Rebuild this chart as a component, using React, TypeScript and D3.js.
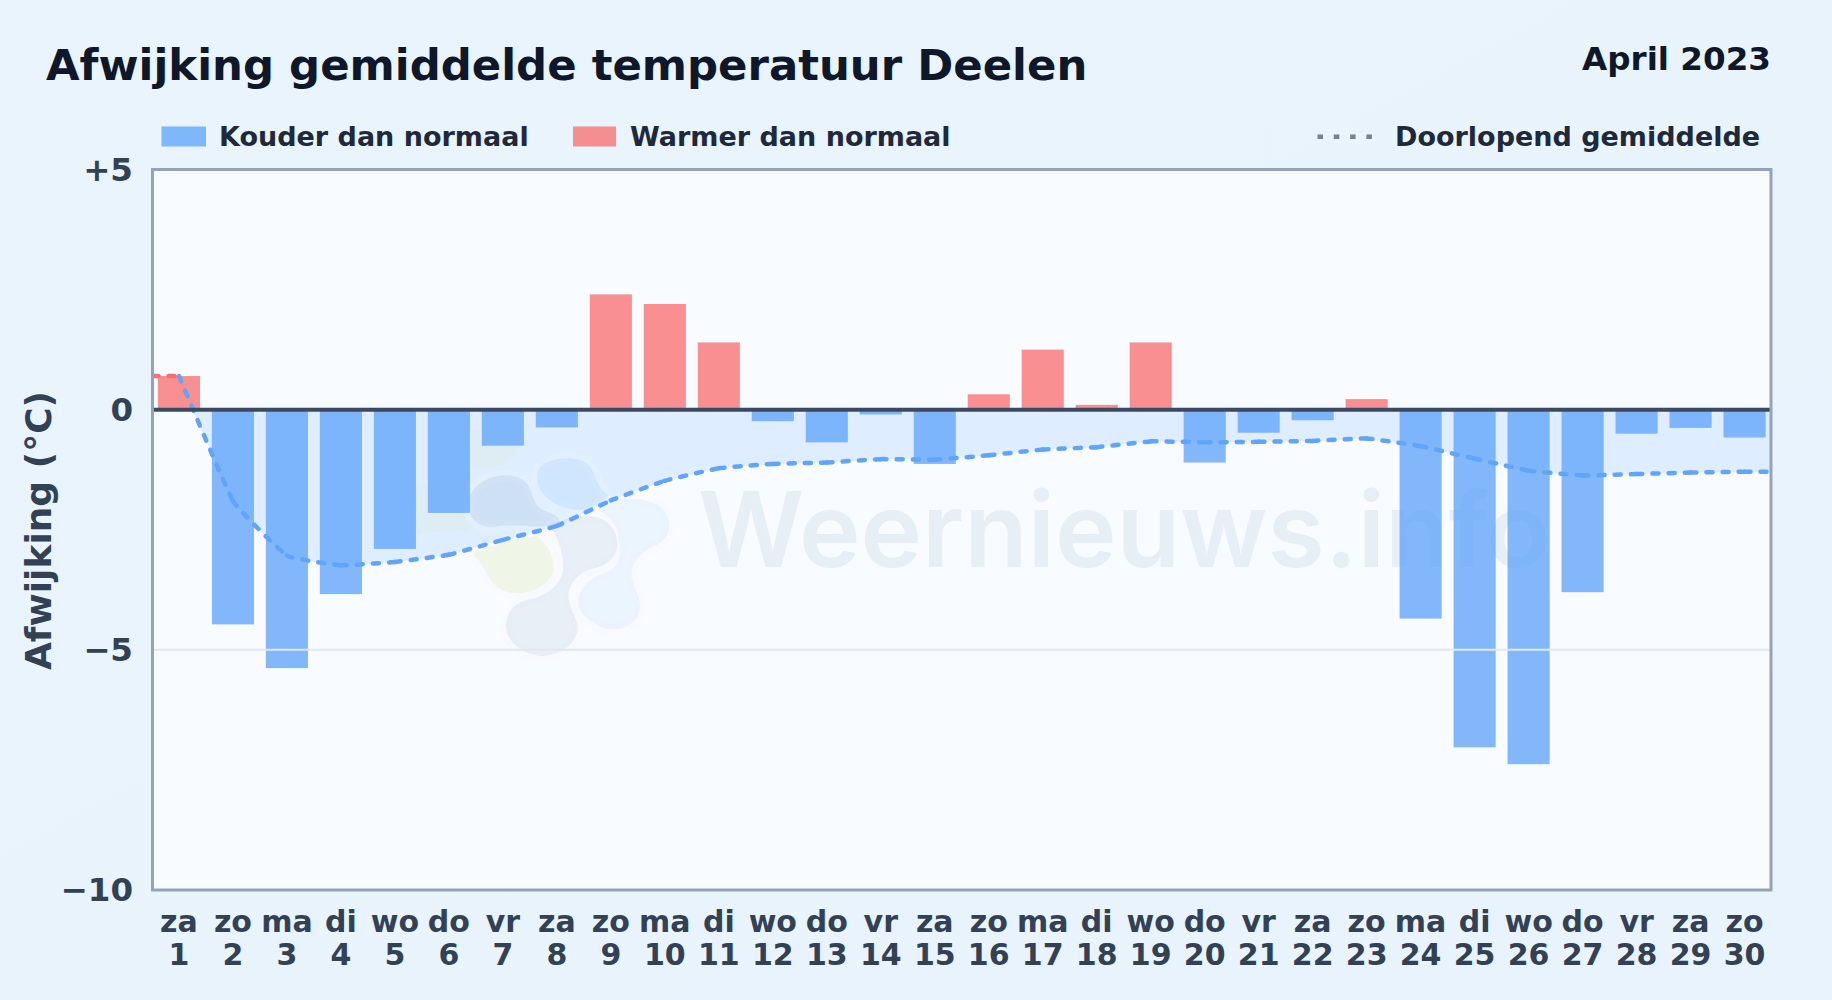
import React from "react";
import * as d3 from "d3";

const weekdays = ["za","zo","ma","di","wo","do","vr","za","zo","ma","di","wo","do","vr","za","zo","ma","di","wo","do","vr","za","zo","ma","di","wo","do","vr","za","zo"];
const days = d3.range(1, 31);
const anomaly = [0.7,-4.47,-5.38,-3.84,-2.9,-2.15,-0.75,-0.37,2.4,2.2,1.4,-0.24,-0.68,-0.1,-1.13,0.32,1.25,0.1,1.4,-1.1,-0.48,-0.22,0.22,-4.35,-7.03,-7.38,-3.8,-0.5,-0.38,-0.58];
const runningMean = [0.7,-1.9,-3.04,-3.24,-3.17,-3.02,-2.71,-2.42,-1.89,-1.48,-1.22,-1.13,-1.1,-1.03,-1.04,-0.95,-0.83,-0.78,-0.66,-0.68,-0.67,-0.65,-0.6,-0.76,-1.02,-1.27,-1.37,-1.34,-1.31,-1.29];
const yTicks = [5, 0, -5, -10];
const yTickLabels = ["+5", "0", "−5", "−10"];
const titleText = "Afwijking gemiddelde temperatuur Deelen";
const periodText = "April 2023";
const legendCold = "Kouder dan normaal";
const legendWarm = "Warmer dan normaal";
const legendMean = "Doorlopend gemiddelde";
const yLabel = "Afwijking (°C)";
const watermark = "Weernieuws.info";

const W = 1832, H = 1000;
const L = 152.5, R = 1771, T = 169.5, B = 890;
const FONT = "'DejaVu Sans', sans-serif";
const BLUE = "#60a5fa", RED = "#f87171";

// decorative logo behind the chart (local units: 3 per pixel)
const logoBlobs = [
  { fill: "#dcebc8", o: 0.22, d: "M335 0 L475 0 C480 70 450 100 410 108 C370 115 340 110 325 125 C290 160 230 160 170 175 L160 310 L330 300 C300 250 310 170 335 0Z" },
  { fill: "#1e5a96", o: 0.085, d: "M330 200 C350 140 450 115 495 155 C525 185 510 225 560 245 C590 255 610 270 590 285 C520 295 470 280 400 290 C350 295 315 255 330 200Z" },
  { fill: "#7cc0fa", o: 0.16, d: "M535 120 C550 85 650 70 685 105 C710 130 705 170 745 195 C720 225 680 250 620 235 C560 220 520 170 535 120Z" },
  { fill: "#7cc0fa", o: 0.1, d: "M750 215 C800 200 880 200 915 245 C945 290 920 335 880 350 C840 365 810 400 815 440 C820 480 845 500 840 540 C830 590 770 610 720 590 C680 570 650 540 655 510 C660 470 690 445 730 430 C780 415 790 370 775 320 C770 280 745 250 710 240Z" },
  { fill: "#1e5a96", o: 0.075, d: "M570 285 C610 270 640 255 690 258 C740 262 775 300 772 345 C770 390 730 410 700 415 C660 425 625 460 625 500 C628 540 655 565 653 600 C645 650 590 680 540 678 C480 672 440 630 438 590 C438 540 470 515 510 508 C560 498 610 460 610 410 C610 360 590 320 570 285Z" },
  { fill: "#dcebb0", o: 0.3, d: "M340 370 C400 345 470 325 530 318 C565 345 585 385 580 420 C570 465 520 490 470 490 C420 490 390 455 375 420 C365 400 350 385 340 370Z" },
];

type Seg = { x0: number; y0: number; c: [number, number, number, number, number, number] };

function buildSegments(pts: [number, number][]): Seg[] {
  const segs: Seg[] = [];
  let cx = 0, cy = 0;
  const ctx: any = {
    moveTo(a: number, b: number) { cx = a; cy = b; },
    lineTo(a: number, b: number) { segs.push({ x0: cx, y0: cy, c: [cx, cy, a, b, a, b] }); cx = a; cy = b; },
    bezierCurveTo(a: number, b: number, c: number, d: number, e: number, f: number) { segs.push({ x0: cx, y0: cy, c: [a, b, c, d, e, f] }); cx = e; cy = f; },
    closePath() {},
  };
  d3.line<[number, number]>().x(d => d[0]).y(d => d[1]).curve(d3.curveCardinal.tension(0.7)).context(ctx)(pts);
  return segs;
}

export default function App() {
  const x = d3.scaleBand<number>().domain(days).range([L, R]).paddingInner(0.22).paddingOuter(0.1);
  const y = d3.scaleLinear().domain([-10, 5]).range([B, T]);
  const cx = (d: number) => x(d)! + x.bandwidth() / 2;
  const pts: [number, number][] = runningMean.map((v, i) => [cx(days[i]), y(v)]);
  const segs = buildSegments(pts);
  const lastMean = runningMean[runningMean.length - 1];
  const curve = segs.map(s => `C${s.c.join(",")}`).join("");
  const areaD = `M${pts[0][0]},${y(0)}L${pts[0][0]},${pts[0][1]}${curve}L${R},${y(lastMean)}L${R},${y(0)}Z`;
  const dash = "6 10";
  return (
    <svg width={W} height={H} viewBox={`0 0 ${W} ${H}`} style={{ position: "absolute", left: 0, top: 0, display: "block" }} fontFamily={FONT}>
      <defs>
        <linearGradient id="bg" x1="0" y1="0" x2="1" y2="1">
          <stop offset="0" stopColor="#e9f4fc" />
          <stop offset="1" stopColor="#e8f3fd" />
        </linearGradient>
        <clipPath id="plot"><rect x={L} y={T} width={R - L} height={B - T} /></clipPath>
        <clipPath id="below"><rect x={L} y={y(0)} width={R - L} height={B - y(0)} /></clipPath>
      </defs>
      <rect width={W} height={H} fill="url(#bg)" />
      <rect x={L} y={T} width={R - L} height={B - T} fill="#f8fbff" />

      <g clipPath="url(#plot)">
        <path d={areaD} fill="#bfdbfe" opacity={0.45} clipPath="url(#below)" />
        <g transform="translate(360,430) scale(0.3333)">
          {logoBlobs.map((b, i) => (
            <path key={"h" + i} d={b.d} fill="none" stroke="#f8fbff" strokeOpacity={i === 0 ? 0 : 0.16} strokeWidth={36} strokeLinejoin="round" />
          ))}
          {logoBlobs.map((b, i) => (
            <path key={i} d={b.d} fill={b.fill} fillOpacity={b.o} />
          ))}
        </g>
        <text x={1124} y={567} fontSize={104} fontWeight={600} fill="#1e5a96" opacity={0.075} textAnchor="middle" fontFamily="Inter, sans-serif">{watermark}</text>

        {anomaly.map((v, i) => (
          <rect key={i} x={x(days[i])} width={x.bandwidth()} y={y(Math.max(v, 0))} height={Math.abs(y(v) - y(0))} fill={v < 0 ? BLUE : RED} fillOpacity={0.78} />
        ))}
        <line x1={L} x2={cx(1)} y1={y(0.7)} y2={y(0.7)} stroke={RED} strokeWidth={4.5} strokeDasharray={dash} strokeLinecap="round" />
        {segs.map((s, i) => (
          <path key={i} d={`M${s.x0},${s.y0}C${s.c.join(",")}`} fill="none" stroke={BLUE} strokeWidth={4.5} strokeDasharray={dash} strokeLinecap="round" />
        ))}
        <line x1={cx(30)} x2={R} y1={y(lastMean)} y2={y(lastMean)} stroke={BLUE} strokeWidth={4.5} strokeDasharray={dash} strokeLinecap="round" />
      </g>

      <line x1={L} x2={R} y1={y(-5)} y2={y(-5)} stroke="#e2e8f0" strokeWidth={2} />
      <line x1={L} x2={R} y1={y(0)} y2={y(0)} stroke="#3b4a61" strokeWidth={4} />
      <rect x={L} y={T} width={R - L} height={B - T} fill="none" stroke="#94a3b8" strokeWidth={3} />

      <text x={46} y={80} fontSize={43.4} fontWeight={700} fill="#0f172a">{titleText}</text>
      <text x={1771} y={70} fontSize={32.6} fontWeight={700} fill="#0f172a" textAnchor="end">{periodText}</text>

      <rect x={161.5} y={126.5} width={44.5} height={20} fill={BLUE} fillOpacity={0.78} />
      <text x={219} y={146} fontSize={27} fontWeight={700} fill="#1e293b">{legendCold}</text>
      <rect x={573} y={126.5} width={43} height={20} fill={RED} fillOpacity={0.78} />
      <text x={630} y={146} fontSize={27} fontWeight={700} fill="#1e293b">{legendWarm}</text>
      <line x1={1317.5} x2={1373} y1={136.7} y2={136.7} stroke="#64748b" strokeOpacity={0.9} strokeWidth={4.5} strokeDasharray="5.5 10.8" />
      <text x={1395} y={146} fontSize={27} fontWeight={700} fill="#1e293b">{legendMean}</text>

      {yTicks.map((t, i) => (
        <text key={t} x={133} y={y(t) + 11} fontSize={32.5} fontWeight={700} fill="#334155" textAnchor="end">{yTickLabels[i]}</text>
      ))}
      <text transform={`translate(51,530.5) rotate(-90)`} fontSize={36} fontWeight={700} fill="#334155" textAnchor="middle">{yLabel}</text>

      {days.map((d, i) => (
        <g key={d} fontSize={30} fontWeight={700} fill="#334155" textAnchor="middle">
          <text x={cx(d)} y={932}>{weekdays[i]}</text>
          <text x={cx(d)} y={965}>{d}</text>
        </g>
      ))}
    </svg>
  );
}
